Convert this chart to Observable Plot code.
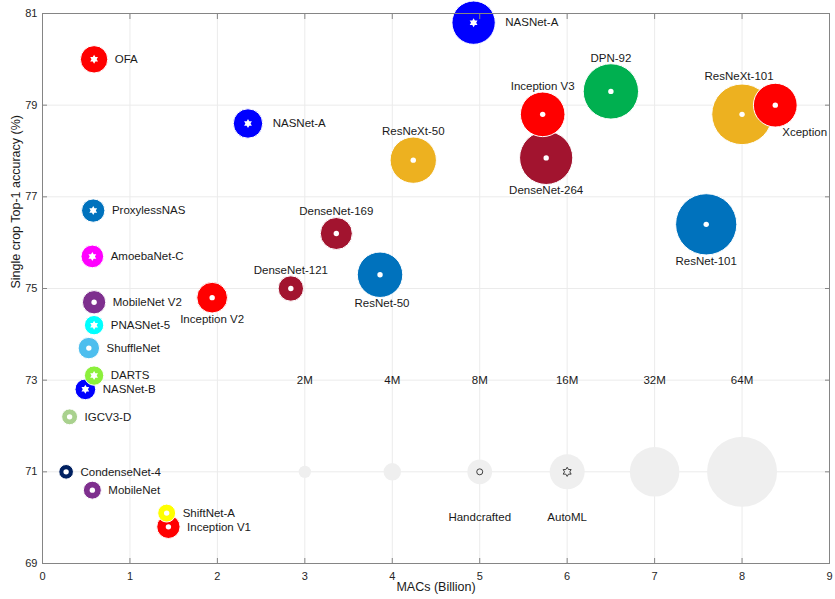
<!DOCTYPE html>
<html><head><meta charset="utf-8">
<script src="https://cdn.jsdelivr.net/npm/d3@7"></script>
<script src="https://cdn.jsdelivr.net/npm/@observablehq/plot@0.6"></script>
<style>
html,body{margin:0;padding:0;background:#fff;}
#chart svg{display:block;}
</style></head><body><div id="chart"></div>
<script>
// ---- data ----
const names = ["CondenseNet-4","IGCV3-D","MobileNet","ShuffleNet","MobileNet V2","ShiftNet-A","Inception V1","Inception V2","DenseNet-121","DenseNet-169","ResNet-50","ResNeXt-50","DenseNet-264","Inception V3","DPN-92","ResNet-101","ResNeXt-101","Xception","OFA","NASNet-A","ProxylessNAS","AmoebaNet-C","PNASNet-5","DARTS","NASNet-B","NASNet-A"];
const macs = [0.27,0.31,0.57,0.53,0.59,1.42,1.44,1.94,2.84,3.36,3.86,4.24,5.76,5.72,6.5,7.59,8.0,8.38,0.59,2.35,0.58,0.57,0.59,0.59,0.49,4.93];
const acc = [71.0,72.2,70.6,73.7,74.7,70.1,69.8,74.8,75.0,76.2,75.3,77.8,77.85,78.8,79.3,76.4,78.8,79.0,80.0,78.6,76.7,75.7,74.2,73.1,72.8,80.8];
const params = [2.8,3.3,4.2,6.0,7.1,4.2,7.1,12.3,8.4,13.4,27,28,37,26,40,49,48,25,9.8,11.3,7.1,6.7,4.9,4.9,5.6,24.5];
const colors = ["#002060","#a9d18e","#7e2f8e","#4dbeee","#7e2f8e","#ffff00","#ff0000","#ff0000","#a2142f","#a2142f","#0072bd","#edb120","#a2142f","#ff0000","#00b050","#0072bd","#edb120","#ff0000","#ff0000","#0000ff","#0072bd","#ff00ff","#00ffff","#8cf03c","#0000ff","#0000ff"];
const kinds = ["Handcrafted","Handcrafted","Handcrafted","Handcrafted","Handcrafted","Handcrafted","Handcrafted","Handcrafted","Handcrafted","Handcrafted","Handcrafted","Handcrafted","Handcrafted","Handcrafted","Handcrafted","Handcrafted","Handcrafted","Handcrafted","AutoML","AutoML","AutoML","AutoML","AutoML","AutoML","AutoML","AutoML"];

// size legend (drawn in data space as in the original)
const legendParams = [2,4,8,16,32,64];
const legendLabels = ["2M","4M","8M","16M","32M","64M"];
const legendMacs = [3,4,5,6,7,8];
const legendAcc = 71;
const legendLabelAcc = 73;
const legendKinds = ["Handcrafted","AutoML"];
const legendKindMacs = [5,6];
const legendKindLabelAcc = 70;

const xTicks = [0,1,2,3,4,5,6,7,8,9];
const yTicks = [69,71,73,75,77,79,81];

// ---- build ----
const data = names.map((name,i)=>({name, macs:macs[i], acc:acc[i], params:params[i], color:colors[i], kind:kinds[i]}));
const legend = legendParams.map((p,i)=>({p, label:legendLabels[i], macs:legendMacs[i], acc:legendAcc, labelAcc:legendLabelAcc}));
const kindLegend = legendKinds.map((k,i)=>({kind:k, macs:legendKindMacs[i], acc:legendAcc, labelAcc:legendKindLabelAcc}));

const rDomain = [0,64], rRange = [0,35];
const rpx = d3.scaleSqrt().domain(rDomain).range(rRange);

const hexagram = {
  draw(ctx, size) {
    const R = Math.sqrt(size / Math.PI), r = R / Math.sqrt(3);
    for (let i = 0; i < 12; i++) {
      const a = Math.PI/2 + i*Math.PI/6, rr = i % 2 === 0 ? R : r;
      const x = rr*Math.cos(a), y = -rr*Math.sin(a);
      if (i === 0) ctx.moveTo(x, y); else ctx.lineTo(x, y);
    }
    ctx.closePath();
  }
};

// label layout (style config)
const labelLayout = {
  "DenseNet-121": {pos:"above"}, "DenseNet-169": {pos:"above"}, "ResNeXt-50": {pos:"above"},
  "Inception V3": {pos:"above", gap:5.5}, "DPN-92": {pos:"above", gap:5}, "ResNeXt-101": {pos:"above", gap:8, dx:-3},
  "Inception V2": {pos:"below", gap:6.5}, "ResNet-50": {pos:"below", gap:5.5, dx:2}, "DenseNet-264": {pos:"below", gap:5.5}, "ResNet-101": {pos:"below"},
  "Xception": {pos:"belowRight"}, "NASNet-A": {pos:"right", gap:10}
};
const labelFont = 11.5, txt = "#1a1a1a";
const labelMarks = data.map(d => {
  const L = labelLayout[d.name] || {pos:"right"};
  const r = rpx(d.params);
  let o;
  if (L.pos === "above") o = {dx:L.dx||0, dy:-(r+(L.gap ?? 6)), textAnchor:"middle"};
  else if (L.pos === "below") o = {dx:L.dx||0, dy:r+(L.gap ?? 6), textAnchor:"middle"};
  else if (L.pos === "belowRight") o = {dx:7, dy:27, textAnchor:"start"};
  else o = {dx:r+(L.gap ?? 7), dy:0, textAnchor:"start"};
  return Plot.text([d], {x:"macs", y:"acc", text:"name", fill:txt, fontSize:labelFont, ...o});
});

const gridColor = "#ebebeb", boxColor = "#858585", tickText = "#262626";
const blank = () => "";

const chart = Plot.plot({
  width: 835, height: 599,
  marginLeft: 42, marginRight: 6, marginTop: 13, marginBottom: 36,
  style: {fontFamily: "'Liberation Sans', Arial, Helvetica, sans-serif", fontSize: "11px", background: "white", overflow: "visible"},
  x: {domain: [0, 9]},
  y: {domain: [69, 81]},
  r: {type: "sqrt", domain: rDomain, range: rRange},
  color: {type: "identity"},
  marks: [
    Plot.gridX(xTicks, {stroke: gridColor, strokeOpacity: 1}),
    Plot.gridY(yTicks, {stroke: gridColor, strokeOpacity: 1}),
    // size legend
    Plot.dot(legend, {x: "macs", y: "acc", r: "p", fill: "#efefef"}),
    Plot.text(legend, {x: "macs", y: "labelAcc", text: "label", fill: txt, fontSize: labelFont}),
    Plot.dot(kindLegend.filter(d => d.kind === "Handcrafted"), {x: "macs", y: "acc", r: 3, stroke: "#404040", strokeWidth: 1, fill: "none"}),
    Plot.dot(kindLegend.filter(d => d.kind === "AutoML"), {x: "macs", y: "acc", r: 4.6, symbol: hexagram, stroke: "#404040", strokeWidth: 1, fill: "none"}),
    Plot.text(kindLegend, {x: "macs", y: "labelAcc", text: "kind", fill: txt, fontSize: labelFont}),
    // bubbles
    Plot.dot(data, {x: "macs", y: "acc", r: "params", fill: "color", stroke: "white", strokeWidth: 1}),
    Plot.dot(data.filter(d => d.kind === "Handcrafted"), {x: "macs", y: "acc", r: 2.7, fill: "white"}),
    Plot.dot(data.filter(d => d.kind === "AutoML"), {x: "macs", y: "acc", r: 4.5, symbol: hexagram, fill: "white"}),
    ...labelMarks,
    // box and axes
    Plot.frame({stroke: boxColor, strokeWidth: 1}),
    Plot.axisX(xTicks, {anchor: "bottom", tickSize: -5, stroke: boxColor, tickFormat: blank, label: null}),
    Plot.axisX(xTicks, {anchor: "top", tickSize: -5, stroke: boxColor, tickFormat: blank, label: null}),
    Plot.axisY(yTicks, {anchor: "left", tickSize: -5, stroke: boxColor, tickFormat: blank, label: null}),
    Plot.axisY(yTicks, {anchor: "right", tickSize: -5, stroke: boxColor, tickFormat: blank, label: null}),
    Plot.axisX(xTicks, {anchor: "bottom", tickSize: 0, tickPadding: 9, fill: tickText, fontSize: 11, label: null}),
    Plot.axisY(yTicks, {anchor: "left", tickSize: 0, tickPadding: 5, fill: tickText, fontSize: 11, label: null}),
    Plot.text(["MACs (Billion)"], {frameAnchor: "bottom", dy: 27, fill: txt, fontSize: 12.5}),
    Plot.text(["Single crop Top-1 accuracy (%)"], {frameAnchor: "left", dx: -27, rotate: -90, fill: txt, fontSize: 12.5})
  ]
});
document.getElementById("chart").appendChild(chart);
</script></body></html>
